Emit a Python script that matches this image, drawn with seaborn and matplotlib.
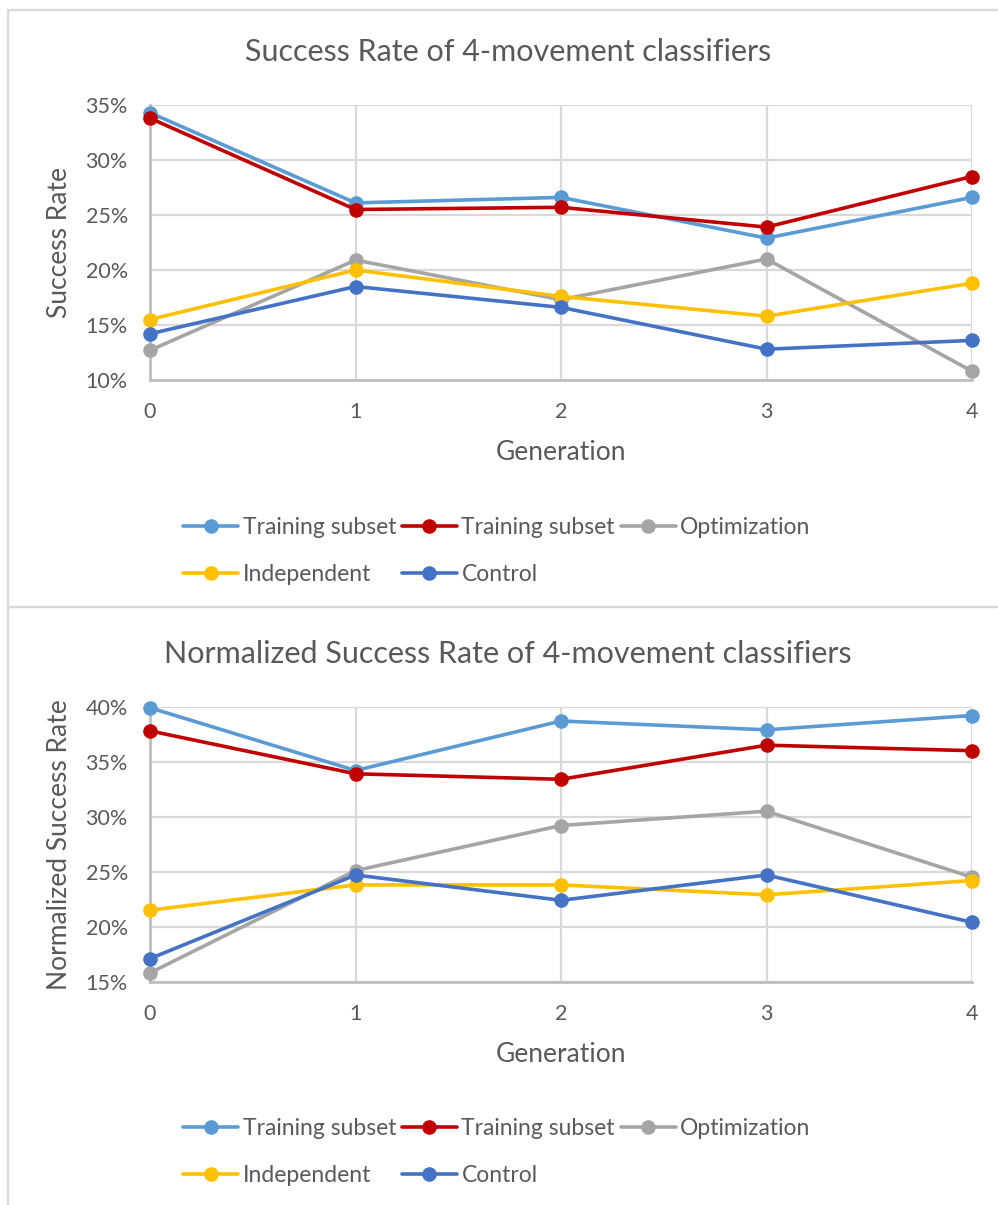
import matplotlib
matplotlib.use("Agg")
import matplotlib.pyplot as plt
import seaborn as sns
from matplotlib.patches import Rectangle
from matplotlib.ticker import PercentFormatter, MultipleLocator

# ---- data -------------------------------------------------------------
generations = [0, 1, 2, 3, 4]
series_names = ["Training subset", "Training subset", "Optimization",
                "Independent", "Control"]
series_colors = ["#5B9BD5", "#C00000", "#A5A5A5", "#FFC000", "#4472C4"]

# success rate (%) per generation
success_training_a = [34.3, 26.1, 26.6, 22.9, 26.6]
success_training_b = [33.8, 25.5, 25.7, 23.9, 28.5]
success_optimization = [12.7, 20.9, 17.3, 21.0, 10.8]
success_independent = [15.5, 20.0, 17.6, 15.8, 18.8]
success_control = [14.2, 18.5, 16.6, 12.8, 13.6]

# normalized success rate (%) per generation
norm_training_a = [39.9, 34.2, 38.7, 37.9, 39.2]
norm_training_b = [37.8, 33.9, 33.4, 36.5, 36.0]
norm_optimization = [15.8, 25.1, 29.2, 30.5, 24.5]
norm_independent = [21.5, 23.8, 23.8, 22.9, 24.2]
norm_control = [17.1, 24.7, 22.4, 24.7, 20.4]

top_title = "Success Rate of 4-movement classifiers"
bottom_title = "Normalized Success Rate of 4-movement classifiers"
top_ylabel = "Success Rate"
bottom_ylabel = "Normalized Success Rate"
xlabel = "Generation"

# ---- style ------------------------------------------------------------
sns.set_theme(style="white")
plt.rcParams["font.family"] = ["Lato", "DejaVu Sans"]
TEXT = "#595959"
GRID = "#D9D9D9"
AXIS = "#BFBFBF"

W, H = 998, 1205
fig = plt.figure(figsize=(W / 100, H / 100), dpi=100)
fig.patch.set_facecolor("white")


def fx(px):
    return px / W


def fy(py):
    return 1 - py / H


# panel outlines
for top, bottom in [(10, 607), (607, 1220)]:
    fig.patches.append(Rectangle((fx(8), fy(bottom)), fx(1010) - fx(8),
                                 (bottom - top) / H, transform=fig.transFigure,
                                 facecolor="none", edgecolor=GRID, lw=1.6,
                                 zorder=0))


def draw_panel(ax, series, ylim, title, title_y, ylabel, legend_y):
    for vals, name, col in zip(series, series_names, series_colors):
        sns.lineplot(x=generations, y=vals, ax=ax, color=col, marker="o",
                     markersize=10.5, linewidth=2.6, markeredgecolor=col,
                     markeredgewidth=0, label=name, clip_on=False,
                     legend=False, zorder=3)
    ax.set_xlim(0, 4)
    ax.set_ylim(*ylim)
    ax.xaxis.set_major_locator(MultipleLocator(1))
    ax.yaxis.set_major_locator(MultipleLocator(5))
    ax.yaxis.set_major_formatter(PercentFormatter(decimals=0))
    ax.grid(True, color=GRID, lw=1.6)
    ax.set_axisbelow(True)
    for side in ["top", "right"]:
        ax.spines[side].set_visible(False)
    for side in ["left", "bottom"]:
        ax.spines[side].set_color(AXIS)
        ax.spines[side].set_linewidth(2)
        ax.spines[side].set_zorder(2)
    ax.tick_params(axis="y", length=0, pad=16, labelsize=15.5, colors=TEXT)
    ax.tick_params(axis="x", length=0, pad=16, labelsize=15.5, colors=TEXT)
    ax.set_xlabel(xlabel, fontsize=19, color=TEXT)
    ax.xaxis.set_label_coords(0.5, -0.265)
    ax.xaxis.label.set_va("center")
    ax.set_ylabel(ylabel, fontsize=19, color=TEXT, va="center")
    ax.yaxis.set_label_coords(-0.1095, 0.5)
    fig.text(fx(508), fy(title_y), title, ha="center", va="center",
             fontsize=22, color=TEXT)

    handles, labels = ax.get_legend_handles_labels()
    order = [0, 3, 1, 4, 2]
    leg = ax.legend([handles[i] for i in order], [labels[i] for i in order],
                    ncol=3, loc="center left",
                    bbox_to_anchor=(fx(183), fy(legend_y)),
                    bbox_transform=fig.transFigure, frameon=False,
                    fontsize=16.5, handlelength=2.4, handletextpad=0.2,
                    columnspacing=0.25, labelspacing=1.1, borderpad=0,
                    borderaxespad=0)
    for t in leg.get_texts():
        t.set_color(TEXT)


ax_top = fig.add_axes([fx(150), fy(380), fx(972) - fx(150), (380 - 105) / H])
draw_panel(ax_top,
           [success_training_a, success_training_b, success_optimization,
            success_independent, success_control],
           (10, 35), top_title, 52, top_ylabel, 551)

ax_bot = fig.add_axes([fx(150), fy(981.7), fx(972) - fx(150), 275 / H])
draw_panel(ax_bot,
           [norm_training_a, norm_training_b, norm_optimization,
            norm_independent, norm_control],
           (15, 40), bottom_title, 654, bottom_ylabel, 1152)

fig.savefig("out.png", dpi=100, facecolor="white")
